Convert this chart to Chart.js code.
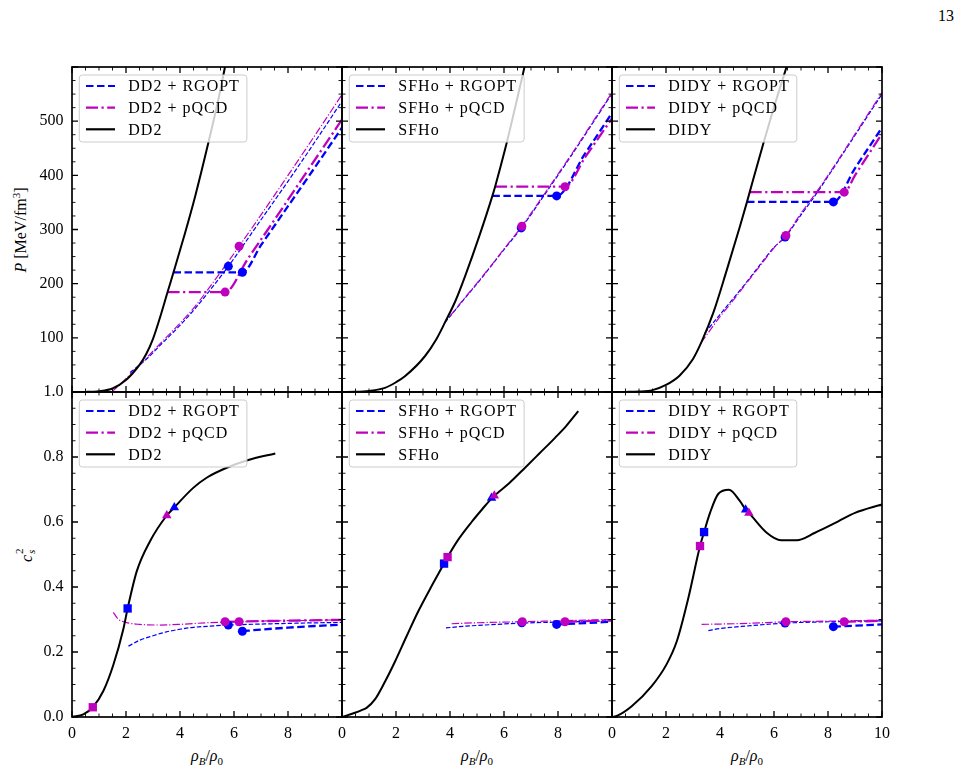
<!DOCTYPE html>
<html>
<head>
<meta charset="utf-8">
<script src="https://cdn.jsdelivr.net/npm/chart.js@4.4.1/dist/chart.umd.min.js"></script>
<style>
  body { margin: 0; background: #fff; width: 963px; height: 775px; position: relative; overflow: hidden;
         font-family: "Liberation Serif", serif; color: #000; }
  canvas { position: absolute; }
  .lab { position: absolute; font-size: 16px; white-space: nowrap; transform: translate(-50%, -50%); }
  .rot { transform: translate(-50%, -50%) rotate(-90deg); }
  .lab sub { font-size: 11px; vertical-align: -4px; }
  .lab sup { font-size: 11px; vertical-align: 6px; }
  .ss { position: relative; display: inline-block; width: 7px; height: 16px; vertical-align: top; }
  .ss .sp { position: absolute; left: 1px; top: -5px; font-size: 11px; }
  .ss .sb { position: absolute; left: 1px; top: 7px; font-size: 11px; }
</style>
</head>
<body>
<div class="lab" style="left:946px; top:16px;">13</div>
<div class="lab rot" style="left:20px; top:230px;"><i>P</i> [MeV/fm<sup>3</sup>]</div>
<div class="lab rot" style="left:27px; top:555px;"><i>c</i><span class="ss"><span class="sp">2</span><span class="sb"><i>s</i></span></span></div>
<div class="lab" style="left:207px; top:757px;"><i>ρ</i><sub><i>B</i></sub>/<i>ρ</i><sub>0</sub></div>
<div class="lab" style="left:477px; top:757px;"><i>ρ</i><sub><i>B</i></sub>/<i>ρ</i><sub>0</sub></div>
<div class="lab" style="left:747px; top:757px;"><i>ρ</i><sub><i>B</i></sub>/<i>ρ</i><sub>0</sub></div>
<script>
// pressure P [MeV/fm^3] against rho_B/rho_0 (top row)
// "QM" = pure quark branch (thin), "Hyb" = Maxwell plateau + quark branch (thick)
const dd2P       = [[0,0],[0.5,0.2],[1,1.5],[1.5,6.5],[2,22],[2.5,50],[2.75,70],[3,98],[3.3,144],[3.54,184.5],[3.76,221],[4.19,294],[4.56,361],[5.05,460],[5.42,540],[5.67,601],[5.9,660]];
const dd2P_rgQM  = [[2.15,36],[2.7,58],[3.32,89],[4,123],[4.56,154],[5,181],[5.79,232],[7,318],[8,389],[9,462],[10,537]];
const dd2P_pqQM  = [[1.47,0],[1.8,15],[2.2,35],[2.7,60],[3.32,92],[4,127],[4.56,158],[5,187],[5.5,221],[6.19,269],[7,327],[8,400],[9,474],[10,549]];
const dd2P_rgHyb = [[3.76,221],[6.31,221],[7,271],[8,343],[9,415],[10,488]];
const dd2P_pqHyb = [[3.54,184.5],[5.67,184.5],[6.5,245],[7.5,318],[8.5,392],[10,503]];
const dd2P_rgDots = [[5.79,232],[6.31,221]];
const dd2P_pqDots = [[5.67,184.5],[6.19,269]];

const sfhoP       = [[0,0],[0.5,0.3],[1,2],[1.59,7.7],[2,18],[2.33,29],[3.07,66],[3.5,98],[3.81,128],[4.2,168],[4.56,214],[5.1,290],[5.57,362],[5.67,379],[6.04,448],[6.35,512],[6.75,598],[7.1,680]];
const sfhoP_rgQM  = [[3.81,128],[4.5,170],[5,200],[5.5,231],[6,263],[6.66,304],[7.5,364],[8.5,437],[10,551]];
const sfhoP_pqQM  = [[4.0,140],[4.5,171],[5,201],[5.5,232],[6,264],[6.66,306],[7.5,366],[8.5,439],[10,553]];
const sfhoP_rgHyb = [[5.57,362],[7.95,362],[9,440],[10,515]];
const sfhoP_pqHyb = [[5.67,379],[8.26,379],[9,433],[10,505]];
const sfhoP_rgDots = [[6.64,303],[7.95,362]];
const sfhoP_pqDots = [[6.66,306],[8.26,379]];

const didyP       = [[0,0],[0.5,0.2],[1,0.8],[1.5,3.5],[2,13],[2.5,30],[3,61],[3.32,93],[3.75,146],[4.25,225],[4.74,306],[5.0,351],[5.1,369],[5.6,458],[5.97,521],[6.47,601],[6.8,655]];
const didyP_rgQM  = [[3.44,109],[4,143],[4.5,173],[5,204],[5.5,236],[6,267],[6.41,286],[7,327],[7.4,354],[8,398],[9,474],[10,550]];
const didyP_pqQM  = [[3.3,91],[4,139],[4.5,170],[5,202],[5.5,234],[6,266],[6.44,289],[7,330],[7.5,364],[8,400],[9,476],[10,553]];
const didyP_rgHyb = [[5.0,351],[8.2,351],[9,413],[10,488]];
const didyP_pqHyb = [[5.1,369],[8.6,369],[9,400],[10,477]];
const didyP_rgDots = [[6.41,286],[8.2,351]];
const didyP_pqDots = [[6.44,289],[8.6,369]];

// squared speed of sound c_s^2 (bottom row)
const dd2Cs       = [[0,0],[0.42,0.008],[0.77,0.03],[1.16,0.08],[1.53,0.16],[1.9,0.27],[2.06,0.334],[2.4,0.449],[2.89,0.541],[3.51,0.62],[3.79,0.645],[4.49,0.705],[5.0,0.737],[5.73,0.767],[6.5,0.79],[7.53,0.811]];
const dd2Cs_rgQM  = [[2.09,0.218],[2.5,0.236],[3,0.25],[3.5,0.262],[4,0.27],[4.5,0.276],[5,0.279],[5.79,0.283],[7,0.286],[8.5,0.289],[10,0.291]];
const dd2Cs_pqQM  = [[1.53,0.322],[1.7,0.302],[2,0.291],[2.5,0.285],[3.26,0.283],[4,0.285],[5,0.29],[6.19,0.293],[7,0.295],[8.5,0.297],[10,0.299]];
const dd2Cs_rgHyb = [[6.31,0.264],[7,0.269],[8,0.275],[9,0.28],[10,0.284]];
const dd2Cs_pqHyb = [[5.67,0.293],[7,0.295],[8.5,0.297],[10,0.299]];
const dd2Cs_rgDots = [[5.79,0.283],[6.31,0.264]];
const dd2Cs_pqDots = [[5.67,0.293],[6.19,0.293]];
const dd2Cs_rgSq = [[2.06,0.334]], dd2Cs_pqSq = [[0.77,0.03]];
const dd2Cs_rgTri = [[3.79,0.645]], dd2Cs_pqTri = [[3.51,0.62]];

const sfhoCs       = [[0,0],[0.48,0.013],[0.75,0.022],[0.91,0.028],[1.22,0.054],[1.6,0.11],[1.96,0.17],[2.4,0.25],[2.83,0.326],[3.3,0.4],[3.78,0.472],[3.91,0.492],[4.3,0.545],[4.8,0.6],[5.2,0.64],[5.57,0.675],[6.2,0.72],[6.78,0.767],[7.3,0.81],[7.89,0.859],[8.3,0.895],[8.75,0.941]];
const sfhoCs_rgQM  = [[3.85,0.274],[4.5,0.279],[5.5,0.284],[6.66,0.289],[8,0.292],[10,0.296]];
const sfhoCs_pqQM  = [[4.06,0.287],[5,0.29],[6,0.292],[6.68,0.293],[8,0.296],[10,0.3]];
const sfhoCs_rgHyb = [[7.95,0.285],[9,0.289],[10,0.293]];
const sfhoCs_pqHyb = [[8.26,0.293],[10,0.298]];
const sfhoCs_rgDots = [[6.66,0.29],[7.95,0.285]];
const sfhoCs_pqDots = [[6.68,0.293],[8.26,0.293]];
const sfhoCs_rgSq = [[3.78,0.472]], sfhoCs_pqSq = [[3.91,0.492]];
const sfhoCs_rgTri = [[5.54,0.674]], sfhoCs_pqTri = [[5.64,0.681]];

const didyCs       = [[0,0],[0.2,0.004],[0.73,0.033],[1.47,0.095],[2.02,0.162],[2.4,0.233],[2.83,0.367],[3.26,0.526],[3.41,0.569],[3.63,0.628],[3.94,0.687],[4.33,0.699],[4.74,0.664],[4.95,0.638],[5.07,0.628],[5.73,0.567],[6.26,0.544],[6.84,0.544],[7.52,0.567],[8.38,0.602],[9.0,0.628],[10,0.654]];
const didyCs_rgQM  = [[3.57,0.266],[4,0.272],[5,0.28],[6.41,0.289],[8,0.293],[10,0.296]];
const didyCs_pqQM  = [[3.32,0.285],[4,0.286],[5,0.288],[6.44,0.293],[8,0.295],[10,0.298]];
const didyCs_rgHyb = [[8.2,0.278],[9,0.281],[10,0.285]];
const didyCs_pqHyb = [[8.6,0.293],[10,0.296]];
const didyCs_rgDots = [[6.41,0.289],[8.2,0.278]];
const didyCs_pqDots = [[6.44,0.293],[8.6,0.293]];
const didyCs_rgSq = [[3.41,0.569]], didyCs_pqSq = [[3.26,0.526]];
const didyCs_rgTri = [[4.95,0.638]], didyCs_pqTri = [[5.07,0.628]];

const legendNames = {
  dd2:  ['DD2 + RGOPT', 'DD2 + pQCD', 'DD2'],
  sfho: ['SFHo + RGOPT', 'SFHo + pQCD', 'SFHo'],
  didy: ['DIDY + RGOPT', 'DIDY + pQCD', 'DIDY']
};

// ---------- layout / styles ----------
const LEFTS = [72, 342, 612], TOPS = [67, 392], PW = 270, PH = 325;
const BLUE = '#0000ff', MAG = '#bf00bf';
const DASH = [7.5, 3.5], DASH_THIN = [4.5, 2];
const DDOT = [12, 3.5, 2.2, 3.5], DDOT_THIN = [7.5, 2, 1.2, 2];
Chart.defaults.font.family = '"Liberation Serif", serif';

function xy(arr) { return arr.map(p => ({ x: p[0], y: p[1] })); }

function line(arr, color, width, dash) {
  return { data: xy(arr), borderColor: color, borderWidth: width, borderDash: dash,
           pointRadius: 0, fill: false, cubicInterpolationMode: 'monotone' };
}
function marks(arr, color, style, r) {
  return { data: xy(arr), showLine: false, pointStyle: style, pointRadius: r, pointHoverRadius: r,
           backgroundColor: color, borderColor: color, pointBorderWidth: 0 };
}

function zeroPad(s) { s.paddingLeft = 0; s.paddingRight = 0; s.paddingTop = 0; s.paddingBottom = 0; }

// inward ticks on all four sides + black frame
function framePlugin(row) {
  return {
    id: 'frame',
    afterDraw(chart) {
      const { ctx, chartArea: a, scales: { x, y } } = chart;
      ctx.save();
      ctx.strokeStyle = '#000';
      for (let i = 0; i <= 20; i++) {
        const px = x.getPixelForValue(i * 0.5);
        const len = i % 4 === 0 ? 6 : 3.5;
        ctx.lineWidth = i % 4 === 0 ? 1.3 : 0.9;
        ctx.beginPath();
        ctx.moveTo(px, a.bottom); ctx.lineTo(px, a.bottom - len);
        ctx.moveTo(px, a.top); ctx.lineTo(px, a.top + len);
        ctx.stroke();
      }
      const n = row === 0 ? 24 : 20;
      for (let i = 0; i <= n; i++) {
        const py = y.getPixelForValue(y.max * i / n);
        const len = i % 4 === 0 ? 6 : 3.5;
        ctx.lineWidth = i % 4 === 0 ? 1.3 : 0.9;
        ctx.beginPath();
        ctx.moveTo(a.left, py); ctx.lineTo(a.left + len, py);
        ctx.moveTo(a.right, py); ctx.lineTo(a.right - len, py);
        ctx.stroke();
      }
      ctx.lineWidth = 1.7;
      ctx.strokeRect(a.left, a.top, a.right - a.left, a.bottom - a.top);
      ctx.restore();
    }
  };
}

function legendPlugin(names) {
  const styles = [[BLUE, DASH], [MAG, DDOT], ['#000', []]];
  return {
    id: 'boxLegend',
    afterDatasetsDraw(chart) {
      const { ctx, chartArea: a } = chart;
      ctx.save();
      ctx.font = '16px "Liberation Serif"';
      ctx.letterSpacing = '1px';
      const tw = Math.max(...names.map(n => ctx.measureText(n).width));
      const bx = a.left + 7.3, by = a.top + 8, bw = 49 + tw + 7, bh = 67;
      ctx.beginPath();
      ctx.roundRect(bx, by, bw, bh, 3);
      ctx.fillStyle = 'rgba(255,255,255,0.8)';
      ctx.fill();
      ctx.strokeStyle = '#cccccc';
      ctx.lineWidth = 1;
      ctx.stroke();
      [19, 40.7, 62.3].forEach((dy, i) => {
        const yy = a.top + dy;
        ctx.strokeStyle = styles[i][0];
        ctx.setLineDash(styles[i][1]);
        ctx.lineWidth = 2.2;
        ctx.beginPath();
        ctx.moveTo(bx + 6.7, yy); ctx.lineTo(bx + 35.7, yy);
        ctx.stroke();
        ctx.setLineDash([]);
        ctx.fillStyle = '#000';
        ctx.textBaseline = 'middle';
        ctx.fillText(names[i], bx + 49, yy + 1);
      });
      ctx.restore();
    }
  };
}

function panel(col, row, datasets, names) {
  const yW = col === 0 ? 72 : 0;
  const padL = col === 0 ? 0 : 8;
  const xH = row === 1 ? 40 : 0;
  const padB = row === 1 ? 8 : 10;
  const w = padL + yW + PW + 8, h = 10 + PH + xH + padB;
  const cv = document.createElement('canvas');
  cv.width = w; cv.height = h;
  cv.style.width = w + 'px'; cv.style.height = h + 'px';
  cv.style.left = (LEFTS[col] - yW - padL) + 'px';
  cv.style.top = (TOPS[row] - 10) + 'px';
  document.body.appendChild(cv);
  const tickFont = { family: '"Liberation Serif", serif', size: 16 };
  new Chart(cv, {
    type: 'line',
    data: { datasets },
    options: {
      responsive: false, animation: false, devicePixelRatio: 1, events: [],
      layout: { padding: { left: padL, right: 8, top: 10, bottom: padB } },
      plugins: { legend: { display: false }, tooltip: { enabled: false } },
      scales: {
        x: {
          type: 'linear', min: 0, max: 10, display: row === 1,
          grid: { display: false, drawTicks: false }, border: { display: false },
          ticks: { stepSize: 2, autoSkip: false, maxRotation: 0, padding: 7, font: tickFont, color: '#000',
                   callback: v => (v === 10 && col < 2) ? '' : String(v) },
          afterFit: s => { s.height = xH; zeroPad(s); }
        },
        y: {
          type: 'linear', min: 0, max: row === 0 ? 600 : 1, display: col === 0,
          grid: { display: false, drawTicks: false }, border: { display: false },
          ticks: { stepSize: row === 0 ? 100 : 0.2, autoSkip: false, padding: 8.5, font: tickFont, color: '#000',
                   callback: v => row === 0 ? ((v === 0 || v === 600) ? '' : String(v)) : v.toFixed(1) },
          afterFit: s => { s.width = yW; zeroPad(s); }
        }
      }
    },
    plugins: [legendPlugin(names), framePlugin(row)]
  });
}

function topSets(had, rgQM, pqQM, rgHyb, pqHyb, rgDots, pqDots) {
  return [
    marks(pqDots, MAG, 'circle', 4.5),
    marks(rgDots, BLUE, 'circle', 4.5),
    line(had, '#000', 2, []),
    line(pqHyb, MAG, 2.3, DDOT),
    line(rgHyb, BLUE, 2.3, DASH),
    line(pqQM, MAG, 1.2, DDOT_THIN),
    line(rgQM, BLUE, 1.2, DASH_THIN)
  ];
}
function botSets(had, rgQM, pqQM, rgHyb, pqHyb, rgDots, pqDots, rgSq, pqSq, rgTri, pqTri) {
  return [
    marks(pqTri, MAG, 'triangle', 5.5),
    marks(rgTri, BLUE, 'triangle', 5.5),
    marks(pqSq, MAG, 'rect', 5.9),
    marks(rgSq, BLUE, 'rect', 5.9),
    marks(pqDots, MAG, 'circle', 4.5),
    marks(rgDots, BLUE, 'circle', 4.5),
    line(had, '#000', 2, []),
    line(pqHyb, MAG, 2.3, DDOT),
    line(rgHyb, BLUE, 2.3, DASH),
    line(pqQM, MAG, 1.2, DDOT_THIN),
    line(rgQM, BLUE, 1.2, DASH_THIN)
  ];
}

panel(0, 0, topSets(dd2P, dd2P_rgQM, dd2P_pqQM, dd2P_rgHyb, dd2P_pqHyb, dd2P_rgDots, dd2P_pqDots), legendNames.dd2);
panel(1, 0, topSets(sfhoP, sfhoP_rgQM, sfhoP_pqQM, sfhoP_rgHyb, sfhoP_pqHyb, sfhoP_rgDots, sfhoP_pqDots), legendNames.sfho);
panel(2, 0, topSets(didyP, didyP_rgQM, didyP_pqQM, didyP_rgHyb, didyP_pqHyb, didyP_rgDots, didyP_pqDots), legendNames.didy);
panel(0, 1, botSets(dd2Cs, dd2Cs_rgQM, dd2Cs_pqQM, dd2Cs_rgHyb, dd2Cs_pqHyb, dd2Cs_rgDots, dd2Cs_pqDots,
                    dd2Cs_rgSq, dd2Cs_pqSq, dd2Cs_rgTri, dd2Cs_pqTri), legendNames.dd2);
panel(1, 1, botSets(sfhoCs, sfhoCs_rgQM, sfhoCs_pqQM, sfhoCs_rgHyb, sfhoCs_pqHyb, sfhoCs_rgDots, sfhoCs_pqDots,
                    sfhoCs_rgSq, sfhoCs_pqSq, sfhoCs_rgTri, sfhoCs_pqTri), legendNames.sfho);
panel(2, 1, botSets(didyCs, didyCs_rgQM, didyCs_pqQM, didyCs_rgHyb, didyCs_pqHyb, didyCs_rgDots, didyCs_pqDots,
                    didyCs_rgSq, didyCs_pqSq, didyCs_rgTri, didyCs_pqTri), legendNames.didy);
</script>
</body>
</html>
